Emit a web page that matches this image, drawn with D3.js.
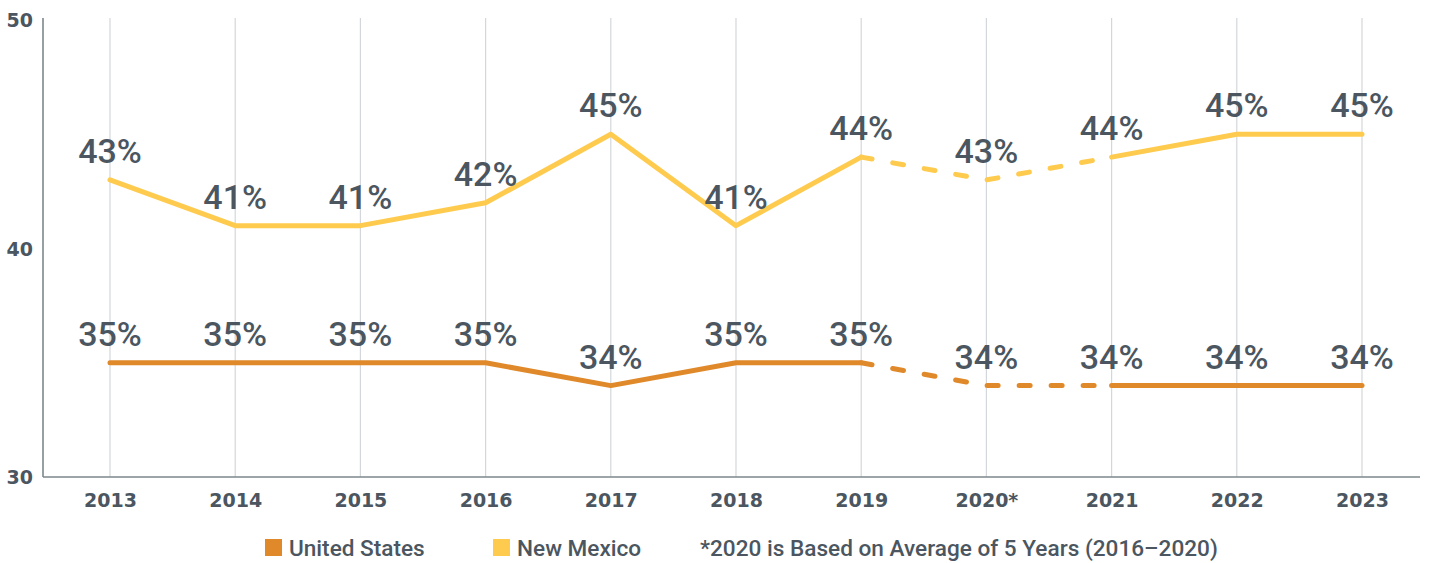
<!DOCTYPE html>
<html>
<head>
<meta charset="utf-8">
<script src="https://cdn.jsdelivr.net/npm/d3@7"></script>
<style>
  html, body { margin: 0; padding: 0; background: #fff; }
  svg { display: block; font-family: "Roboto", "DejaVu Sans", sans-serif; }
</style>
</head>
<body>
<svg id="chart" width="1429" height="563"></svg>
<script>
// Share of population, by year
const years = ["2013", "2014", "2015", "2016", "2017", "2018", "2019", "2020*", "2021", "2022", "2023"];
const unitedStates = [35, 35, 35, 35, 34, 35, 35, 34, 34, 34, 34];
const newMexico = [43, 41, 41, 42, 45, 41, 44, 43, 44, 45, 45];
const yTicks = [30, 40, 50];
const legendItems = ["United States", "New Mexico"];
const footnote = "*2020 is Based on Average of 5 Years (2016\u20132020)";

const colors = { us: "#e0892a", nm: "#fecb4f" };
const textColor = "#4b5660";
const tickFont = "'DejaVu Sans', sans-serif";

const svg = d3.select("#chart");
const margin = { left: 43, right: 9 };
const width = 1429;

const x = d3.scalePoint().domain(years).range([110, 1362]);
const y = d3.scaleLinear().domain([30, 50]).range([477, 20]);

// vertical gridlines at each year
svg.append("g")
  .selectAll("line")
  .data(years)
  .join("line")
  .attr("x1", d => x(d)).attr("x2", d => x(d))
  .attr("y1", y(50) - 2).attr("y2", y(30))
  .attr("stroke", "#d3d7db").attr("stroke-width", 1.2);

// axes
const yAxis = svg.append("g")
  .attr("transform", `translate(${margin.left},0)`)
  .call(d3.axisLeft(y).tickValues(yTicks).tickSize(0).tickPadding(10));
yAxis.select(".domain").attr("stroke", "#7c878b").attr("stroke-width", 1.6)
  .attr("d", `M0,${y(50) - 2}V${y(30)}`);
yAxis.selectAll("text")
  .attr("fill", textColor).attr("font-size", 19).attr("font-weight", 700)
  .attr("dy", "0.36em").style("font-family", tickFont);

const xAxis = svg.append("g")
  .attr("transform", `translate(0,${y(30)})`)
  .call(d3.axisBottom(x).tickSize(0).tickPadding(17));
xAxis.select(".domain").attr("stroke", "#7c878b").attr("stroke-width", 1.6)
  .attr("d", `M${margin.left},0H${width - margin.right}`);
xAxis.selectAll("text")
  .attr("fill", textColor).attr("font-size", 19).attr("font-weight", 700)
  .style("font-family", tickFont);

// line segments: solid through 2019, dashed 2019–2021, solid after
function drawSeries(values, color) {
  const pts = years.map((yr, i) => [x(yr), y(values[i])]);
  const line = d3.line();
  const g = svg.append("g").attr("fill", "none").attr("stroke", color)
    .attr("stroke-width", 5).attr("stroke-linecap", "round").attr("stroke-linejoin", "round");
  g.append("path").attr("d", line(pts.slice(0, 7)));
  g.append("path").attr("d", line(pts.slice(6, 9))).attr("stroke-dasharray", "11 21");
  g.append("path").attr("d", line(pts.slice(8)));
  svg.append("g")
    .selectAll("text")
    .data(values)
    .join("text")
    .attr("x", (d, i) => x(years[i]))
    .attr("y", d => y(d) - 17)
    .attr("text-anchor", "middle")
    .attr("fill", textColor)
    .attr("font-size", 34)
    .attr("font-weight", 500)
    .text(d => d + "%");
}
drawSeries(newMexico, colors.nm);
drawSeries(unitedStates, colors.us);

// legend
const legend = svg.append("g").attr("font-size", 22.6).attr("font-weight", 500).attr("fill", textColor);
const legendX = [265, 493];
legendItems.forEach((name, i) => {
  legend.append("rect").attr("x", legendX[i]).attr("y", 539).attr("width", 17).attr("height", 17)
    .attr("fill", i === 0 ? colors.us : colors.nm);
  legend.append("text").attr("x", legendX[i] + 24).attr("y", 556).text(name);
});
legend.append("text").attr("x", 700).attr("y", 556).text(footnote);
</script>
</body>
</html>
